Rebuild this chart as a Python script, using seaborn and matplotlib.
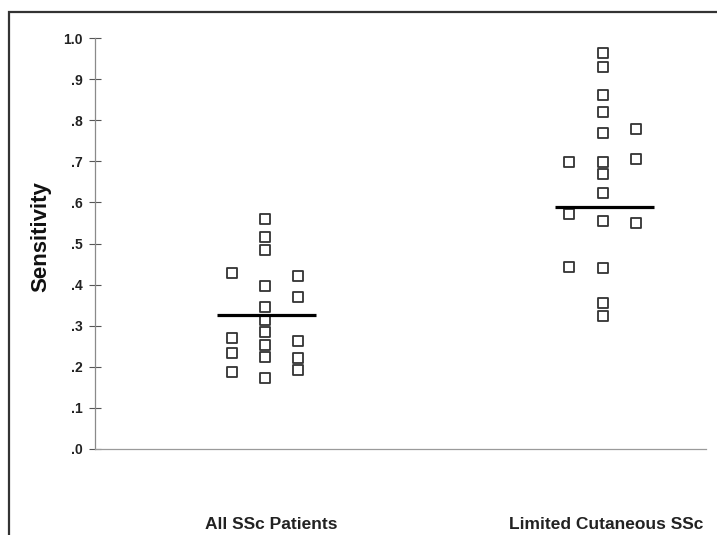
import numpy as np
import pandas as pd
import seaborn as sns
import matplotlib.pyplot as plt
from matplotlib.patches import Rectangle

# data
groups = ['All SSc Patients', 'Limited Cutaneous SSc']

all_ssc = [0.428, 0.270, 0.234, 0.187,
           0.560, 0.516, 0.484, 0.397, 0.345, 0.314, 0.285, 0.253, 0.224, 0.173,
           0.421, 0.370, 0.263, 0.221, 0.192]
all_ssc_lane = [-1, -1, -1, -1,
                0, 0, 0, 0, 0, 0, 0, 0, 0, 0,
                1, 1, 1, 1, 1]

limited = [0.698, 0.572, 0.443,
           0.963, 0.930, 0.861, 0.820, 0.769, 0.698, 0.669, 0.623, 0.555, 0.440, 0.355, 0.324,
           0.778, 0.705, 0.550]
limited_lane = [-1, -1, -1,
                0, 0, 0, 0, 0, 0, 0, 0, 0, 0, 0, 0,
                1, 1, 1]

group_means = [0.325, 0.590]

yticks = [0.0, 0.1, 0.2, 0.3, 0.4, 0.5, 0.6, 0.7, 0.8, 0.9, 1.0]
ytick_labels = ['.0', '.1', '.2', '.3', '.4', '.5', '.6', '.7', '.8', '.9', '1.0']

sns.set_style('white')
plt.rcParams['font.family'] = ['Liberation Sans', 'DejaVu Sans']

lane_gap = 0.099
df = pd.DataFrame({
    'group': [0] * len(all_ssc) + [1] * len(limited),
    'lane': all_ssc_lane + limited_lane,
    'sensitivity': all_ssc + limited,
})
df['x'] = df['group'] + df['lane'] * lane_gap

fig = plt.figure(figsize=(7.17, 5.35), dpi=100)
ax = fig.add_axes([95 / 717, 86 / 535, (706 - 95) / 717, (449 - 38) / 535])

sns.scatterplot(data=df, x='x', y='sensitivity', ax=ax, marker='s', s=60,
                facecolor='white', edgecolor='#333333', linewidth=1.3, legend=False, zorder=3)

for i, m in enumerate(group_means):
    ax.hlines(m, i - 0.142, i + 0.152, color='black', linewidth=2.3, zorder=4)

ax.set_xlim(-0.503, 1.305)
ax.set_ylim(0, 1.0)
ax.set_yticks(yticks)
ax.set_yticklabels(ytick_labels, fontsize=10, fontweight='bold', color='#222222')
ax.tick_params(axis='y', direction='inout', length=8, width=0.8, color='#555555', pad=5, left=True)
# category labels sit a little right of the data columns in the original
ax.set_xticks([0.018, 1.009])
ax.set_xticklabels(groups, fontsize=12.5, fontweight='bold', color='#222222')
ax.tick_params(axis='x', length=0, pad=49)

for side in ['top', 'right']:
    ax.spines[side].set_visible(False)
ax.spines['left'].set_color('#8a8a8a')
ax.spines['left'].set_linewidth(0.9)
ax.spines['bottom'].set_color('#9a9a9a')
ax.spines['bottom'].set_linewidth(0.9)

ax.set_xlabel('')
ax.set_ylabel('Sensitivity', fontsize=16, fontweight='bold', color='#111111')
ax.yaxis.set_label_coords(-0.071, 0.516)

# outer frame of the scanned figure
fig.patches.append(Rectangle((9 / 717, -0.05), 1.1, 1 - 12 / 535 + 0.05,
                             transform=fig.transFigure, fill=False,
                             edgecolor='#333333', linewidth=1.6))

fig.savefig('out.png', dpi=100)
